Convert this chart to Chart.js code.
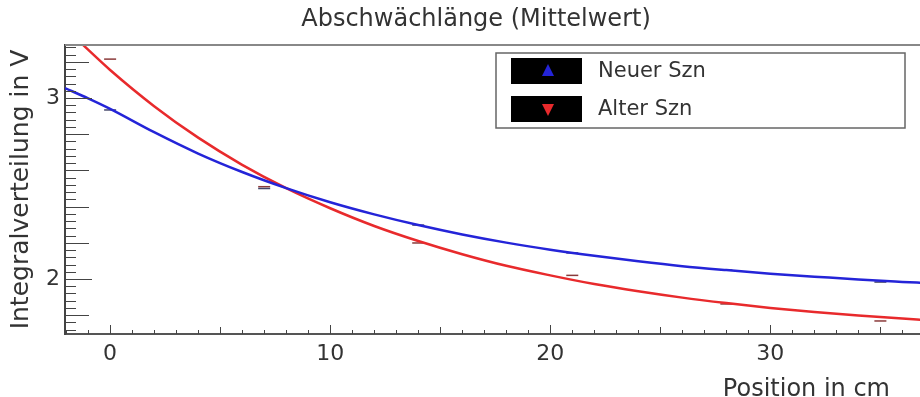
<!DOCTYPE html>
<html>
<head>
<meta charset="utf-8">
<title>Abschwächlänge</title>
<script src="https://cdn.jsdelivr.net/npm/chart.js@4.4.1/dist/chart.umd.min.js"></script>
<style>
  html, body { margin: 0; background: #fff; overflow: hidden; }
  #wrap { width: 920px; height: 397px; position: relative; }
</style>
</head>
<body>
<div id="wrap"><canvas id="myChart"></canvas></div>
<script>
// data
const posX = [0, 7, 14, 21, 28, 35];
const neuerMeas = [2.934, 2.50, 2.298, 2.144, 2.049, 1.983];
const alterMeas = [3.215, 2.51, 2.199, 2.02, 1.862, 1.768];

// fit curves
const curveX = [-2.05, -1, 0, 2, 4, 6, 8, 10, 12, 14, 16, 18, 20, 22, 24, 26, 28, 30, 32, 34, 36, 37];
const neuerFit = [3.055, 2.998, 2.94, 2.811, 2.693, 2.591, 2.502, 2.424, 2.357, 2.298, 2.246, 2.201, 2.162, 2.128, 2.098, 2.071, 2.049, 2.029, 2.013, 1.997, 1.984, 1.978];
const alterFit = [3.39, 3.267, 3.155, 2.955, 2.781, 2.631, 2.502, 2.391, 2.293, 2.210, 2.137, 2.073, 2.020, 1.972, 1.932, 1.897, 1.867, 1.840, 1.817, 1.798, 1.781, 1.773];

const seriesNames = ['Neuer Szn', 'Alter Szn'];
const xTickLabels = [0, 10, 20, 30];
const yTickLabels = [2, 3];

const titleText = 'Abschwächlänge (Mittelwert)';
const xTitleText = 'Position in cm';

const FONT = 'DejaVu Sans';
const TEXT = '#333';
const BLUE = '#2424d8';
const RED = '#e82a2c';

function pairs(xs, ys) {
  return xs.map(function(x, i) { return {x: x, y: ys[i]}; });
}

// ROOT style ticks + frame
const frameTicks = {
  id: 'frameTicks',
  afterDraw: function(chart) {
    const ctx = chart.ctx;
    const a = chart.chartArea;
    const xs = chart.scales.x;
    const ys = chart.scales.y;
    ctx.save();
    ctx.strokeStyle = '#888';
    ctx.lineWidth = 2;
    ctx.beginPath();
    ctx.moveTo(a.left, a.top);
    ctx.lineTo(a.right, a.top);
    ctx.stroke();

    ctx.strokeStyle = '#444';
    ctx.lineWidth = 1;
    ctx.beginPath();
    for (let v = Math.ceil(xs.min); v <= xs.max; v++) {
      let len = 4;
      if (v % 10 === 0) len = 9;
      else if (v % 5 === 0) len = 7;
      const px = Math.round(xs.getPixelForValue(v)) + 0.5;
      ctx.moveTo(px, a.bottom);
      ctx.lineTo(px, a.bottom - len);
    }
    for (let k = Math.ceil(ys.min / 0.04); k * 0.04 <= ys.max; k++) {
      let len = 11;
      if (k % 25 === 0) len = 27;
      else if (k % 5 === 0) len = 24;
      const py = Math.round(ys.getPixelForValue(k * 0.04)) + 0.5;
      ctx.moveTo(a.left, py);
      ctx.lineTo(a.left + len, py);
    }
    ctx.stroke();

    // title and x title sit where ROOT puts them
    ctx.fillStyle = TEXT;
    ctx.font = '24px "' + FONT + '"';
    ctx.textAlign = 'center';
    ctx.textBaseline = 'middle';
    ctx.fillText(titleText, 476, 20);
    ctx.textAlign = 'right';
    ctx.textBaseline = 'alphabetic';
    ctx.fillText(xTitleText, 890, 396);
    ctx.restore();
  }
};

// boxed legend like the original
const boxLegend = {
  id: 'boxLegend',
  afterDraw: function(chart) {
    const ctx = chart.ctx;
    const colors = [BLUE, RED];
    ctx.save();
    ctx.fillStyle = '#fff';
    ctx.fillRect(496, 53, 409, 75);
    ctx.strokeStyle = '#666';
    ctx.lineWidth = 1.5;
    ctx.strokeRect(496, 53, 409, 75);
    ctx.font = '21px "' + FONT + '"';
    ctx.textBaseline = 'middle';
    for (let i = 0; i < seriesNames.length; i++) {
      const cy = 71 + i * 38;
      ctx.fillStyle = '#000';
      ctx.fillRect(511, cy - 13, 71, 26);
      ctx.fillStyle = colors[i];
      ctx.beginPath();
      if (i === 0) {
        ctx.moveTo(548, cy - 7);
        ctx.lineTo(554, cy + 5);
        ctx.lineTo(542, cy + 5);
      } else {
        ctx.moveTo(548, cy + 7);
        ctx.lineTo(554, cy - 5);
        ctx.lineTo(542, cy - 5);
      }
      ctx.closePath();
      ctx.fill();
      ctx.fillStyle = TEXT;
      ctx.fillText(seriesNames[i], 598, cy + 1);
    }
    ctx.restore();
  }
};

const ctx = document.getElementById('myChart').getContext('2d');
// eslint-disable-next-line no-undef
const chart = new Chart(ctx, {
  type: 'line',
  data: {
    datasets: [
      {
        label: seriesNames[0] + ' Fit',
        data: pairs(curveX, neuerFit),
        borderColor: BLUE,
        borderWidth: 2.5,
        pointRadius: 0,
        cubicInterpolationMode: 'monotone'
      },
      {
        label: seriesNames[1] + ' Fit',
        data: pairs(curveX, alterFit),
        borderColor: RED,
        borderWidth: 2.5,
        pointRadius: 0,
        cubicInterpolationMode: 'monotone'
      },
      {
        label: seriesNames[0],
        data: pairs(posX, neuerMeas),
        showLine: false,
        pointStyle: 'line',
        pointRadius: 6,
        borderColor: '#44466a',
        borderWidth: 1.5
      },
      {
        label: seriesNames[1],
        data: pairs(posX, alterMeas),
        showLine: false,
        pointStyle: 'line',
        pointRadius: 6,
        borderColor: '#8a3a3a',
        borderWidth: 1.5
      }
    ]
  },
  options: {
    responsive: true,
    maintainAspectRatio: false,
    animation: false,
    layout: { padding: { top: 45, right: 0, bottom: 0, left: 0 }, autoPadding: false },
    plugins: {
      legend: { display: false },
      tooltip: { enabled: false },
      title: { display: false }
    },
    scales: {
      x: {
        type: 'linear',
        min: -2.05,
        max: 36.8,
        afterFit: function(scale) { scale.height = 63; },
        afterBuildTicks: function(scale) {
          scale.ticks = xTickLabels.map(function(v) { return {value: v}; });
        },
        grid: { display: false, drawTicks: false },
        border: { display: true, color: '#555', width: 2 },
        ticks: {
          color: TEXT,
          font: { family: FONT, size: 22 },
          padding: 7,
          maxRotation: 0
        }
      },
      y: {
        type: 'linear',
        min: 1.696,
        max: 3.293,
        afterFit: function(scale) { scale.width = 65; },
        afterBuildTicks: function(scale) {
          scale.ticks = yTickLabels.map(function(v) { return {value: v}; });
        },
        grid: { display: false, drawTicks: false },
        border: { display: true, color: '#444', width: 2 },
        ticks: {
          color: TEXT,
          font: { family: FONT, size: 22 },
          padding: 5
        },
        title: {
          display: true,
          text: 'Integralverteilung in V',
          color: TEXT,
          font: { family: FONT, size: 25 },
          padding: { top: 6, bottom: 0 }
        }
      }
    }
  },
  plugins: [frameTicks, boxLegend]
});
</script>
</body>
</html>
